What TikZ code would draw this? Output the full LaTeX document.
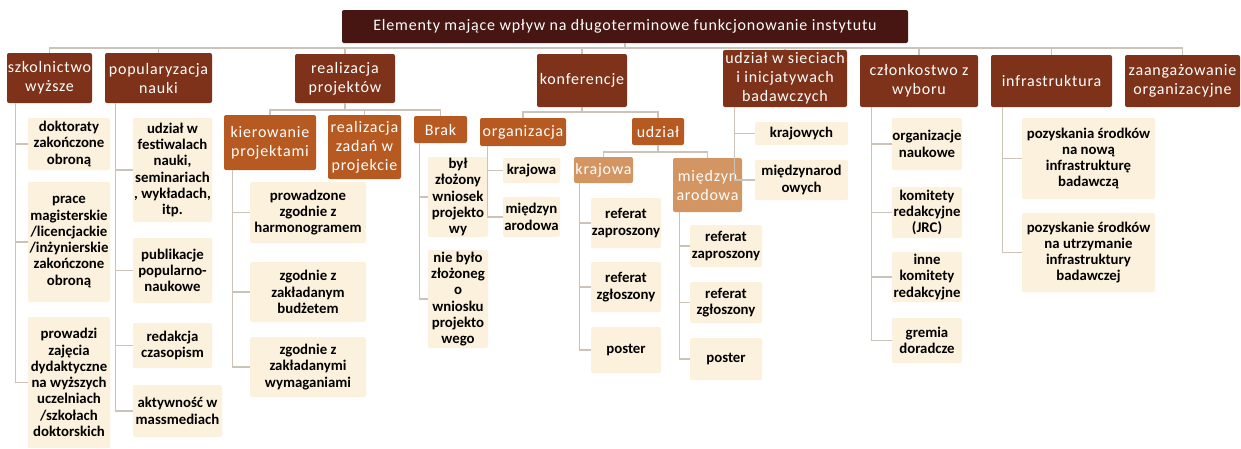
\documentclass[tikz,border=0pt]{standalone}
\usepackage{fontspec}
\setmainfont{Carlito}
\newfontfamily\hdfont[LetterSpace=5]{Carlito}
\definecolor{titlec}{HTML}{471512}
\definecolor{topc}{HTML}{7E3219}
\definecolor{secc}{HTML}{B65A22}
\definecolor{thrc}{HTML}{D39562}
\definecolor{leafc}{HTML}{FCF1DC}
\definecolor{connc}{HTML}{CBC3B8}
\newcommand\mybox[7]{\node[#1, minimum width={(#5-#3)*1pt}, minimum height={(#6-#4)*1pt}] (#2) at ({(#3+#5)/2},{(#4+#6)/2}) {#7};}
\tikzset{
  base/.style={inner sep=0pt, align=center, rounded corners=2pt},
  ttl/.style={base, fill=titlec, text=white, font=\hdfont\fontsize{16}{19}\selectfont},
  topbox/.style={base, fill=topc, text=white, font=\hdfont\fontsize{16}{19}\selectfont},
  secbox/.style={base, fill=secc, text=white, font=\hdfont\fontsize{16}{19}\selectfont},
  thrbox/.style={base, fill=thrc, text=white, font=\hdfont\fontsize{16}{19}\selectfont},
  leaf/.style={base, fill=leafc, text=black, font=\bfseries\fontsize{14.8}{16.3}\selectfont},
  conn/.style={draw=connc, line width=1.2pt}
}
\begin{document}
\begin{tikzpicture}[x=1pt,y=-1pt]
\useasboundingbox[fill=white] (0,0) rectangle (1241,448);
% title
\mybox{ttl}{title}{342}{10}{908}{43}{Elementy mające wpływ na długoterminowe funkcjonowanie instytutu}
% top level
\mybox{topbox}{t1}{7}{53}{92}{103}{szkolnictwo\\wyższe}
\mybox{topbox}{t2}{105}{53}{212}{103}{popularyzacja\\nauki}
\mybox{topbox}{t3}{295}{54}{395}{103}{realizacja\\projektów}
\mybox{topbox}{t4}{537}{54}{627}{107}{konferencje}
\mybox{topbox}{t5}{723}{50}{847}{107}{udział w sieciach\\i inicjatywach\\badawczych}
\mybox{topbox}{t6}{860}{55}{978}{107}{członkostwo z\\wyboru}
\mybox{topbox}{t7}{991}{55}{1112}{107}{infrastruktura}
\mybox{topbox}{t8}{1125}{55}{1240}{107}{zaangażowanie\\organizacyjne}
% second level
\mybox{secbox}{o1}{224}{115}{316}{170}{kierowanie\\projektami}
\mybox{secbox}{o2}{328}{115}{401}{179}{realizacja\\zadań w\\projekcie}
\mybox{secbox}{o3}{414}{116}{467}{143}{Brak}
\mybox{secbox}{o4}{480}{118}{566}{146}{organizacja}
\mybox{secbox}{o5}{632}{118}{684}{145}{udział}
\mybox{thrbox}{l1}{574}{157}{633}{183}{krajowa}
\mybox{thrbox}{l2}{673}{158}{742}{212}{międzyn\\arodowa}
% leaves
\mybox{leaf}{a1}{28}{118}{110}{170}{doktoraty\\zakończone\\obroną}
\mybox{leaf}{a2}{28}{182}{110}{302}{prace\\magisterskie\\/licencjackie\\/inżynierskie\\zakończone\\obroną}
\mybox{leaf}{a3}{28}{317}{110}{448}{prowadzi\\zajęcia\\dydaktyczne\\na wyższych\\uczelniach\\/szkołach\\doktorskich}
\mybox{leaf}{b1}{133}{118}{212}{222}{udział w\\festiwalach\\nauki,\\seminariach\\, wykładach,\\itp.}
\mybox{leaf}{b2}{133}{238}{212}{303}{publikacje\\popularno-\\naukowe}
\mybox{leaf}{b3}{133}{323}{212}{368}{redakcja\\czasopism}
\mybox{leaf}{b4}{133}{385}{222}{437}{aktywność w\\massmediach}
\mybox{leaf}{c1}{250}{182}{366}{243}{prowadzone\\zgodnie z\\harmonogramem}
\mybox{leaf}{c2}{250}{262}{366}{322}{zgodnie z\\zakładanym\\budżetem}
\mybox{leaf}{c3}{250}{337}{366}{397}{zgodnie z\\zakładanymi\\wymaganiami}
\mybox{leaf}{d1}{428}{157}{488}{237}{był\\złożony\\wniosek\\projekto\\wy}
\mybox{leaf}{d2}{428}{250}{488}{348}{nie było\\złożoneg\\o\\wniosku\\projekto\\wego}
\mybox{leaf}{e1}{503}{158}{560}{183}{krajowa}
\mybox{leaf}{e2}{503}{197}{560}{237}{międzyn\\arodowa}
\mybox{leaf}{f1}{591}{198}{661}{248}{referat\\zaproszony}
\mybox{leaf}{f2}{591}{262}{661}{312}{referat\\zgłoszony}
\mybox{leaf}{f3}{591}{327}{661}{373}{poster}
\mybox{leaf}{g1}{690}{225}{762}{267}{referat\\zaproszony}
\mybox{leaf}{g2}{690}{282}{762}{323}{referat\\zgłoszony}
\mybox{leaf}{g3}{690}{338}{762}{380}{poster}
\mybox{leaf}{h1}{755}{122}{848}{145}{krajowych}
\mybox{leaf}{h2}{755}{160}{848}{200}{międzynarod\\owych}
\mybox{leaf}{i1}{892}{118}{962}{170}{organizacje\\naukowe}
\mybox{leaf}{i2}{892}{187}{962}{238}{komitety\\redakcyjne\\(JRC)}
\mybox{leaf}{i3}{892}{252}{962}{302}{inne\\komitety\\redakcyjne}
\mybox{leaf}{i4}{892}{318}{962}{363}{gremia\\doradcze}
\mybox{leaf}{j1}{1022}{118}{1155}{199}{pozyskania środków\\na nową\\infrastrukturę\\badawczą}
\mybox{leaf}{j2}{1022}{213}{1155}{292}{pozyskanie środków\\na utrzymanie\\infrastruktury\\badawczej}
% connectors
\coordinate (bus) at (0,48);
\foreach \n in {t1,t2,t3,t4,t5,t6,t7,t8}
  \draw[conn] (title.south) -- (title.south |- bus) -| (\n.north);
\coordinate (bus2) at (0,110);
\foreach \n in {o1,o2,o3}
  \draw[conn] (t3.south) -- (t3.south |- bus2) -| (\n.north);
\coordinate (bus3) at (0,112);
\foreach \n in {o4,o5}
  \draw[conn] (t4.south) -- (t4.south |- bus3) -| (\n.north);
\coordinate (bus4) at (0,152);
\foreach \n in {l1,l2}
  \draw[conn] (o5.south) -- (o5.south |- bus4) -| (\n.north);
\foreach \n in {a1,a2,a3} \draw[conn] ([xshift=9pt]t1.south west) |- (\n.west);
\foreach \n in {b1,b2,b3,b4} \draw[conn] ([xshift=11pt]t2.south west) |- (\n.west);
\foreach \n in {c1,c2,c3} \draw[conn] ([xshift=9pt]o1.south west) |- (\n.west);
\foreach \n in {d1,d2} \draw[conn] ([xshift=6pt]o3.south west) |- (\n.west);
\foreach \n in {e1,e2} \draw[conn] ([xshift=8pt]o4.south west) |- (\n.west);
\foreach \n in {f1,f2,f3} \draw[conn] ([xshift=6pt]l1.south west) |- (\n.west);
\foreach \n in {g1,g2,g3} \draw[conn] ([xshift=7pt]l2.south west) |- (\n.west);
\foreach \n in {h1,h2} \draw[conn] ([xshift=12pt]t5.south west) |- (\n.west);
\foreach \n in {i1,i2,i3,i4} \draw[conn] ([xshift=12pt]t6.south west) |- (\n.west);
\foreach \n in {j1,j2} \draw[conn] ([xshift=12pt]t7.south west) |- (\n.west);
\end{tikzpicture}
\end{document}
